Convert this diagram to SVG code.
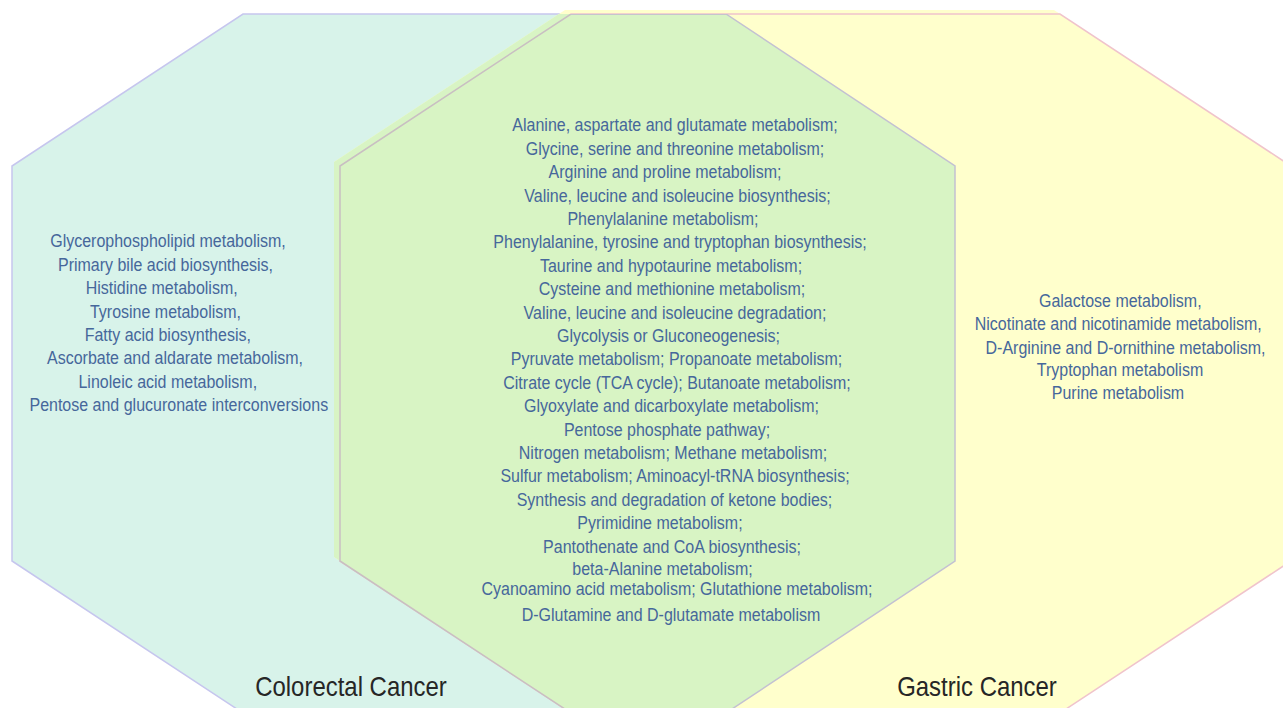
<svg xmlns="http://www.w3.org/2000/svg" width="1283" height="708" viewBox="0 0 1283 708">
<style>
.t{font-family:"Liberation Sans",Arial,sans-serif;font-size:18.5px;fill:#46679b;text-anchor:middle}
.h{font-family:"Liberation Sans",Arial,sans-serif;font-size:27.7px;fill:#262626;text-anchor:middle}
.fillL{fill:#d8f3ea;stroke:#c6c6ee;stroke-width:1.5}
.fillR{fill:#ffffcc}
.lineR{fill:none;stroke:#f0c4cc;stroke-width:1.5}
.fillG{fill:#d8f4c4}
.lineRG{fill:none;stroke:#c9bfc2;stroke-width:1.5}
.lineLG{fill:none;stroke:#c3c1d2;stroke-width:1.5}
</style>
<defs>
<polygon id="octL" points="243,14 726,14 955,166 955,561 726,713 243,713 12,561 12,166"/>
<polygon id="octR" points="571,14 1060,14 1291,166 1291,561 1060,713 571,713 340,561 340,166"/>
<clipPath id="clipL"><polygon points="243,14 726,14 955,166 955,561 726,713 243,713 12,561 12,166"/></clipPath>
<clipPath id="clipR"><polygon points="571,14 1060,14 1291,166 1291,561 1060,713 571,713 340,561 340,166"/></clipPath>
</defs>
<rect width="1283" height="708" fill="#ffffff"/>
<g id="colorectal">
<use href="#octL" class="fillL"/>
</g>
<g id="gastric">
<use href="#octR" class="fillR" transform="translate(-6,-4)"/>
<use href="#octR" class="fillR"/>
<use href="#octR" class="lineR"/>
</g>
<g id="overlap">
<g clip-path="url(#clipL)">
<use href="#octR" class="fillG" transform="translate(-6,-4)"/>
<use href="#octR" class="fillG"/>
<use href="#octR" class="lineRG"/>
</g>
<g clip-path="url(#clipR)">
<use href="#octL" class="lineLG"/>
</g>
</g>
<g id="labels" transform="scale(0.865,1)">
<g id="colorectal-text">
<text class="t" x="194.22" y="247.5">Glycerophospholipid metabolism,</text>
<text class="t" x="191.33" y="270.9">Primary bile acid biosynthesis,</text>
<text class="t" x="186.94" y="294.3">Histidine metabolism,</text>
<text class="t" x="191.33" y="317.7">Tyrosine metabolism,</text>
<text class="t" x="193.99" y="341.1">Fatty acid biosynthesis,</text>
<text class="t" x="202.31" y="364.5">Ascorbate and aldarate metabolism,</text>
<text class="t" x="193.99" y="387.9">Linoleic acid metabolism,</text>
<text class="t" x="206.71" y="411.3">Pentose and glucuronate interconversions</text>
<text class="h" x="405.78" y="696.5">Colorectal Cancer</text>
</g>
<g id="overlap-text">
<text class="t" x="780.35" y="131.5">Alanine, aspartate and glutamate metabolism;</text>
<text class="t" x="780.35" y="154.9">Glycine, serine and threonine metabolism;</text>
<text class="t" x="768.79" y="178.3">Arginine and proline metabolism;</text>
<text class="t" x="783.24" y="201.7">Valine, leucine and isoleucine biosynthesis;</text>
<text class="t" x="766.47" y="225.1">Phenylalanine metabolism;</text>
<text class="t" x="786.13" y="248.5">Phenylalanine, tyrosine and tryptophan biosynthesis;</text>
<text class="t" x="775.72" y="271.9">Taurine and hypotaurine metabolism;</text>
<text class="t" x="776.88" y="295.3">Cysteine and methionine metabolism;</text>
<text class="t" x="780.35" y="318.7">Valine, leucine and isoleucine degradation;</text>
<text class="t" x="772.83" y="342.1">Glycolysis or Gluconeogenesis;</text>
<text class="t" x="782.08" y="365.5">Pyruvate metabolism; Propanoate metabolism;</text>
<text class="t" x="782.66" y="388.9">Citrate cycle (TCA cycle); Butanoate metabolism;</text>
<text class="t" x="776.30" y="412.3">Glyoxylate and dicarboxylate metabolism;</text>
<text class="t" x="771.10" y="435.7">Pentose phosphate pathway;</text>
<text class="t" x="778.03" y="459.1">Nitrogen metabolism; Methane metabolism;</text>
<text class="t" x="780.35" y="482.5">Sulfur metabolism; Aminoacyl-tRNA biosynthesis;</text>
<text class="t" x="779.77" y="505.9">Synthesis and degradation of ketone bodies;</text>
<text class="t" x="763.01" y="529.3">Pyrimidine metabolism;</text>
<text class="t" x="776.88" y="552.7">Pantothenate and CoA biosynthesis;</text>
<text class="t" x="765.90" y="575">beta-Alanine metabolism;</text>
<text class="t" x="782.66" y="595">Cyanoamino acid metabolism; Glutathione metabolism;</text>
<text class="t" x="775.72" y="621.5">D-Glutamine and D-glutamate metabolism</text>
</g>
<g id="gastric-text">
<text class="t" x="1295.14" y="307.2">Galactose metabolism,</text>
<text class="t" x="1292.83" y="330.5">Nicotinate and nicotinamide metabolism,</text>
<text class="t" x="1301.16" y="353.8">D-Arginine and D-ornithine metabolism,</text>
<text class="t" x="1294.80" y="376.5">Tryptophan metabolism</text>
<text class="t" x="1292.49" y="399.2">Purine metabolism</text>
<text class="h" x="1129.48" y="696.5">Gastric Cancer</text>
</g>
</g>
</svg>
